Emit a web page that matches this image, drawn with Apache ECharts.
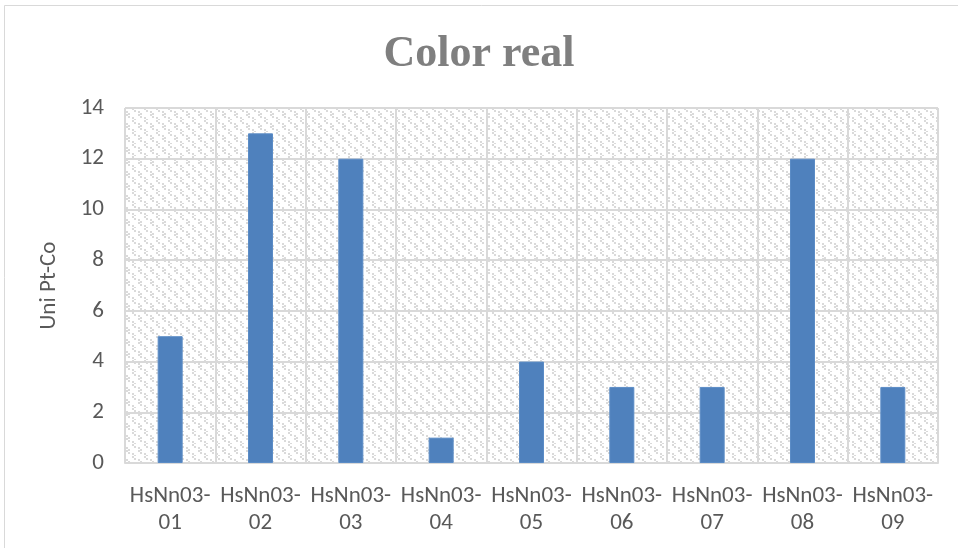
<!DOCTYPE html>
<html>
<head>
<meta charset="utf-8">
<script src="https://cdn.jsdelivr.net/npm/echarts@6/dist/echarts.min.js"></script>
<style>
  html, body { margin: 0; padding: 0; background: #ffffff; }
  #chart { width: 958px; height: 548px; }
</style>
</head>
<body>
<div id="chart"></div>
<script>
// Sample codes along the x axis
const categories = ['HsNn03-\n01', 'HsNn03-\n02', 'HsNn03-\n03', 'HsNn03-\n04', 'HsNn03-\n05',
                    'HsNn03-\n06', 'HsNn03-\n07', 'HsNn03-\n08', 'HsNn03-\n09'];
// Real color, Pt-Co units
const colorValues = [5, 13, 12, 1, 4, 3, 3, 12, 3];
const yTicks = { min: 0, max: 14, interval: 2 };

// Dashed downward-diagonal hatch tile for the plot background
function hatchTile() {
  const c = document.createElement('canvas');
  c.width = 12; c.height = 12;
  const g = c.getContext('2d');
  g.fillStyle = '#ffffff';
  g.fillRect(0, 0, 12, 12);
  g.fillStyle = '#dadada';
  for (let i = 0; i < 6; i++) {
    if (i % 3 === 2) continue;
    const y = i * 2;
    g.fillRect(i * 2, y, 2, 2);
    g.fillRect((i * 2 + 6) % 12, (y + 3) % 12, 2, 2);
  }
  return c;
}

const chart = echarts.init(document.getElementById('chart'));
chart.setOption({
  animation: false,
  backgroundColor: '#ffffff',
  title: {
    text: 'Color real',
    left: 'center',
    top: 28,
    textStyle: {
      fontFamily: 'Liberation Serif',
      fontWeight: 'bold',
      fontSize: 44,
      color: '#7f7f7f'
    }
  },
  graphic: [{
    type: 'rect',
    shape: { x: 4.5, y: 5.5, width: 1000, height: 600 },
    style: { fill: 'none', stroke: '#d9d9d9', lineWidth: 1 },
    silent: true
  }],
  grid: {
    left: 125, right: 20, top: 108, bottom: 85,
    show: true,
    borderWidth: 0,
    backgroundColor: { image: hatchTile(), repeat: 'repeat' }
  },
  xAxis: {
    type: 'category',
    data: categories,
    boundaryGap: true,
    axisLine: { show: true, lineStyle: { color: '#d9d9d9', width: 2 } },
    axisTick: { show: false },
    splitLine: { show: true, lineStyle: { color: '#d9d9d9', width: 2 } },
    axisLabel: {
      color: '#595959',
      fontFamily: 'Carlito, Calibri, sans-serif',
      fontSize: 23,
      lineHeight: 27,
      margin: 20,
      interval: 0
    }
  },
  yAxis: {
    type: 'value',
    min: yTicks.min,
    max: yTicks.max,
    interval: yTicks.interval,
    name: 'Uni Pt-Co',
    nameLocation: 'middle',
    nameGap: 64,
    nameRotate: 90,
    nameTextStyle: {
      color: '#595959',
      fontFamily: 'Carlito, Calibri, sans-serif',
      fontSize: 23
    },
    axisLine: { show: false },
    axisTick: { show: false },
    splitLine: { show: true, lineStyle: { color: '#d9d9d9', width: 2 } },
    axisLabel: {
      color: '#595959',
      fontFamily: 'Carlito, Calibri, sans-serif',
      fontSize: 23,
      margin: 21
    }
  },
  series: [{
    type: 'bar',
    data: colorValues,
    barWidth: 25,
    itemStyle: { color: '#4f81bd', borderColor: '#5b8cc6', borderWidth: 1 }
  }]
});
</script>
</body>
</html>
